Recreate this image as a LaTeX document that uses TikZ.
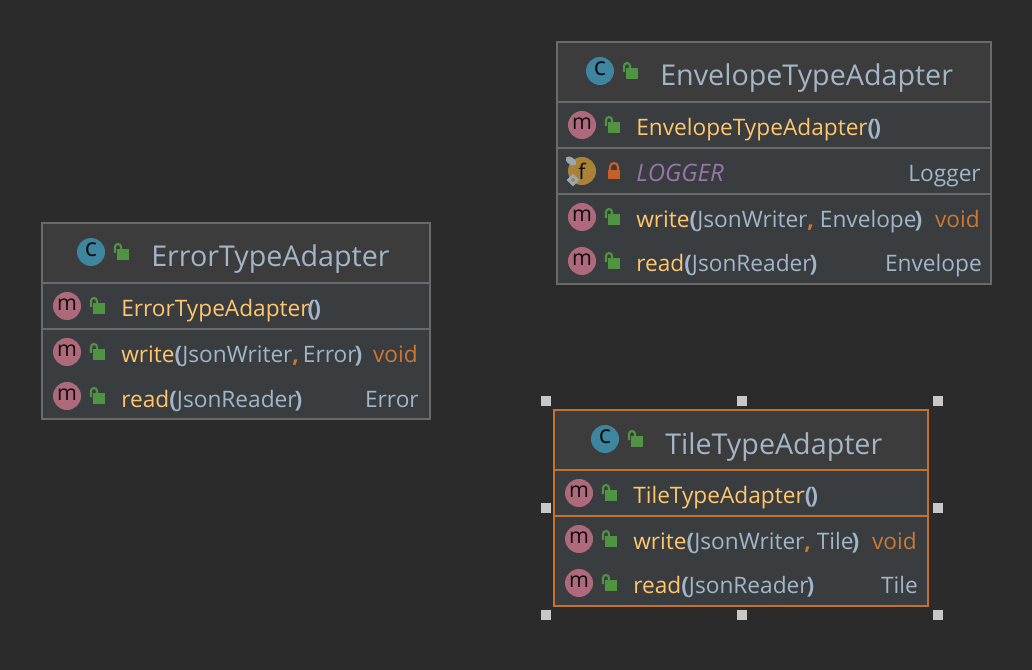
\documentclass[tikz,border=0pt]{standalone}
\usepackage{fontspec}
\setmainfont{Open Sans}
\definecolor{bgcol}{HTML}{2B2B2B}
\definecolor{headcol}{HTML}{3C3C3C}
\definecolor{rowcol}{HTML}{3A3D40}
\definecolor{edgecol}{HTML}{6A6A6A}
\definecolor{selcol}{HTML}{C4702F}
\definecolor{namecol}{HTML}{FFC66D}
\definecolor{textcol}{HTML}{A4B5C8}
\definecolor{voidcol}{HTML}{CC7832}
\definecolor{fieldcol}{HTML}{9876AA}
\definecolor{classcol}{HTML}{3E86A0}
\definecolor{methcol}{HTML}{AE6A7C}
\definecolor{fldcol}{HTML}{A98238}
\definecolor{lockcol}{HTML}{4F9343}
\definecolor{privcol}{HTML}{C5602B}
\definecolor{handlecol}{HTML}{C8C8C8}
\definecolor{pincol}{HTML}{9AA7B0}
\newcommand{\mname}[1]{\textcolor{namecol}{#1}}
\newcommand{\mopen}{\textcolor{textcol}{\bfseries (}}
\newcommand{\mclose}{\kern-1.5pt\textcolor{textcol}{\bfseries )}}
\newcommand{\mcomma}{\textcolor{voidcol}{\bfseries ,}}
\tikzset{
  titletext/.style={anchor=base west,inner sep=0pt,text=textcol,font=\fontsize{21.5}{24}\selectfont},
  membertext/.style={anchor=base west,inner sep=0pt,text=textcol,font=\fontsize{17}{20}\selectfont},
  typetext/.style={anchor=base east,inner sep=0pt,text=textcol,font=\fontsize{17}{20}\selectfont},
  handlebox/.style={fill=handlecol,draw=none},
  iconletter/.style={inner sep=0pt,text=black!70!bgcol,font=\fontsize{16}{16}\selectfont},
  classletter/.style={iconletter,font=\fontsize{19}{19}\selectfont},
  lockopen/.pic={
    \fill[lockcol] (-4,-3) rectangle (8,8);
    \draw[lockcol,line width=1.6pt] (-6,1) -- (-6,-5) arc (180:360:3) -- (0,-3);
  },
  lockshut/.pic={
    \fill[privcol] (-6,-2) rectangle (6,7);
    \draw[privcol,line width=1.6pt] (-4,-2) -- (-4,-5) arc (180:360:4) -- (4,-2);
  },
}
\begin{document}
\begin{tikzpicture}[line cap=butt,line join=miter,x=0.75pt,y=-0.75pt]
  \fill[bgcol] (0,0) rectangle (1032,670);
  \useasboundingbox (0,0) rectangle (1032,670);
  % ---- EnvelopeTypeAdapter
  \fill[rowcol] (557,42) rectangle (991,284);
  \fill[headcol] (557,42) rectangle (991,102);
  \draw[edgecol,line width=1.5pt] (557,42) rectangle (991,284);
  \draw[edgecol,line width=1.5pt] (557,102) -- (991,102);
  \draw[edgecol,line width=1.5pt] (557,148) -- (991,148);
  \draw[edgecol,line width=1.5pt] (557,194) -- (991,194);
  \fill[classcol] (600,71) circle (14);
  \node[classletter] (envC) at (600,69) {c};
  \pic at (630,71) {lockopen};
  \node[titletext] (envTitle) at (660,86) {EnvelopeTypeAdapter};
  \fill[methcol] (582,125) circle (14);
  \node[iconletter] (envM1) at (582,124) {m};
  \pic at (612,125) {lockopen};
  \node[membertext] (envCtor) at (636,136) {\mname{EnvelopeTypeAdapter}\mopen\mclose};
  \fill[fldcol] (582,171) circle (14);
  \node[iconletter] (envF) at (582,171) {f};
  \fill[pincol,rotate around={-35:(571,161)}] (571,161) ellipse (6 and 3.5);
  \fill[pincol,rotate around={45:(573,180)}] (568.5,175.5) rectangle (577.5,184.5);
  \fill[fldcol,rotate around={45:(573,180)}] (571.5,178.5) rectangle (574.5,181.5);
  \pic at (614,172) {lockshut};
  \node[membertext,text=fieldcol,font=\fontsize{18}{20}\selectfont\itshape] (envLogger) at (636,182) {LOGGER};
  \node[typetext] (envLoggerT) at (981,182) {Logger};
  \fill[methcol] (582,217) circle (14);
  \node[iconletter] (envM2) at (582,216) {m};
  \pic at (612,217) {lockopen};
  \node[membertext] (envWrite) at (636,228) {\mname{write}\mopen JsonWriter\mcomma{} Envelope\mclose};
  \node[typetext,text=voidcol] (envWriteT) at (980,228) {void};
  \fill[methcol] (582,261) circle (14);
  \node[iconletter] (envM3) at (582,260) {m};
  \pic at (612,261) {lockopen};
  \node[membertext] (envRead) at (636,272) {\mname{read}\mopen JsonReader\mclose};
  \node[typetext] (envReadT) at (982,272) {Envelope};
  % ---- ErrorTypeAdapter
  \fill[rowcol] (42,223) rectangle (430,419);
  \fill[headcol] (42,223) rectangle (430,283);
  \draw[edgecol,line width=1.5pt] (42,223) rectangle (430,419);
  \draw[edgecol,line width=1.5pt] (42,283) -- (430,283);
  \draw[edgecol,line width=1.5pt] (42,329) -- (430,329);
  \fill[classcol] (91,252) circle (14);
  \node[classletter] (errC) at (91,250) {c};
  \pic at (121,252) {lockopen};
  \node[titletext] (errTitle) at (151,267) {ErrorTypeAdapter};
  \fill[methcol] (67,306) circle (14);
  \node[iconletter] (errM1) at (67,305) {m};
  \pic at (97,306) {lockopen};
  \node[membertext] (errCtor) at (121,317) {\mname{ErrorTypeAdapter}\kern-1.5pt\mopen\mclose};
  \fill[methcol] (67,352) circle (14);
  \node[iconletter] (errM2) at (67,351) {m};
  \pic at (97,352) {lockopen};
  \node[membertext] (errWrite) at (121,363) {\mname{write}\mopen JsonWriter\mcomma{} \kern-1.5pt Error\mclose};
  \node[typetext,text=voidcol] (errWriteT) at (418,363) {void};
  \fill[methcol] (67,396) circle (14);
  \node[iconletter] (errM3) at (67,395) {m};
  \pic at (97,396) {lockopen};
  \node[membertext] (errRead) at (121,407) {\mname{read}\mopen JsonReader\mclose};
  \node[typetext] (errReadT) at (419,407) {Error};
  % ---- TileTypeAdapter
  \fill[rowcol] (554,410) rectangle (928,606);
  \fill[headcol] (554,410) rectangle (928,470);
  \draw[selcol,line width=1.5pt] (554,410) rectangle (928,606);
  \draw[selcol,line width=1.5pt] (554,470) -- (928,470);
  \draw[selcol,line width=1.5pt] (554,516) -- (928,516);
  \fill[classcol] (605,439) circle (14);
  \node[classletter] (tileC) at (605,437) {c};
  \pic at (635,439) {lockopen};
  \node[titletext] (tileTitle) at (665,454) {TileTypeAdapter};
  \fill[methcol] (579,493) circle (14);
  \node[iconletter] (tileM1) at (579,492) {m};
  \pic at (609,493) {lockopen};
  \node[membertext] (tileCtor) at (633,503) {\mname{TileTypeAdapter}\mopen\mclose};
  \fill[methcol] (579,539) circle (14);
  \node[iconletter] (tileM2) at (579,538) {m};
  \pic at (609,539) {lockopen};
  \node[membertext] (tileWrite) at (633,549) {\mname{write}\mopen JsonWriter\mcomma{} Tile\mclose};
  \node[typetext,text=voidcol] (tileWriteT) at (917,549) {void};
  \fill[methcol] (579,583) circle (14);
  \node[iconletter] (tileM3) at (579,582) {m};
  \pic at (609,583) {lockopen};
  \node[membertext] (tileRead) at (633,593) {\mname{read}\mopen JsonReader\mclose};
  \node[typetext] (tileReadT) at (918,593) {Tile};
  % selection handles
  \foreach \x/\y in {546/401,742/401,938/401,546/508,938/508,546/615,742/615,938/615}
    \fill[handlebox] (\x-5,\y-5) rectangle (\x+5,\y+5);
\end{tikzpicture}
\end{document}
